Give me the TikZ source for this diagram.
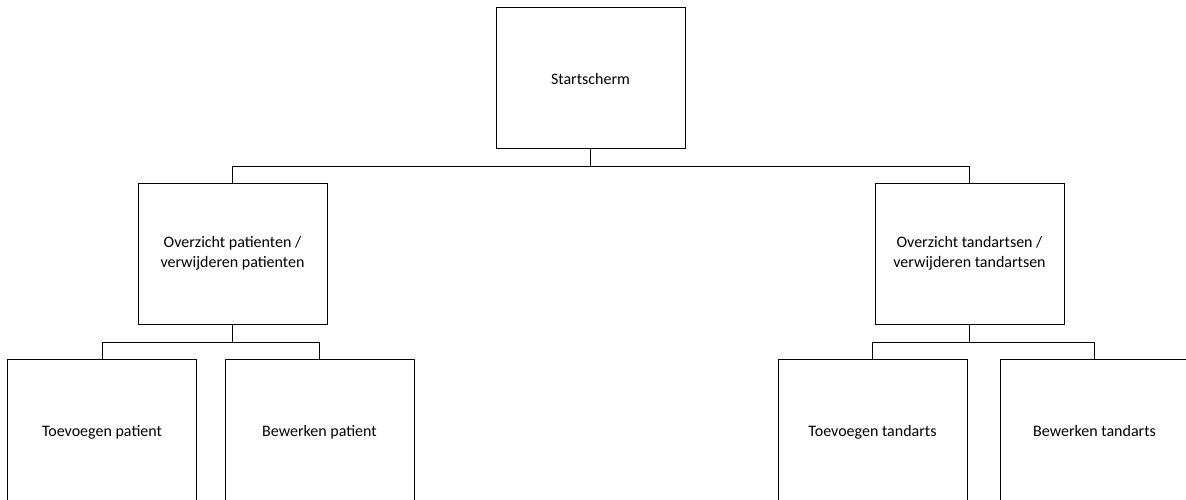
\documentclass[tikz,border=0pt]{standalone}
\usepackage{fontspec}
\setmainfont{Carlito}
\usetikzlibrary{positioning}
\tikzstyle{screen} = [draw, fill=white, rectangle, line width=0.9pt, minimum width=189pt, minimum height=141pt, inner sep=0pt, outer sep=0pt, align=center, font=\fontsize{16}{19.5}\selectfont]
\tikzstyle{oneline} = [screen, text height=13pt, text depth=0pt]
\tikzstyle{link} = [line width=1pt]

\begin{document}
\begin{tikzpicture}[x=1pt,y=1pt]
  \useasboundingbox (0,0) rectangle (1186,-499);
  \node[oneline] (start) at (590.5,-77.5) {Startscherm};
  \node[screen, below=35pt of start, xshift=-358pt] (patover) {Overzicht patienten /\\verwijderen patienten};
  \node[screen, below=35pt of start, xshift=379pt] (tandover) {Overzicht tandartsen /\\verwijderen tandartsen};
  \node[oneline, below=35pt of patover, xshift=-130.5pt] (patadd) {Toevoegen patient};
  \node[oneline, below=35pt of patover, xshift=87pt] (patedit) {Bewerken patient};
  \node[oneline, below=35pt of tandover, xshift=-97pt] (tandadd) {Toevoegen tandarts};
  \node[oneline, below=35pt of tandover, xshift=125pt] (tandedit) {Bewerken tandarts};
  \draw[link] (start.south) -- ++(0,-18) -| (patover.north);
  \draw[link] (start.south) -- ++(0,-18) -| (tandover.north);
  \draw[link] (patover.south) -- ++(0,-18) -| (patadd.north);
  \draw[link] (patover.south) -- ++(0,-18) -| (patedit.north);
  \draw[link] (tandover.south) -- ++(0,-18) -| (tandadd.north);
  \draw[link] (tandover.south) -- ++(0,-18) -| (tandedit.north);
\end{tikzpicture}
\end{document}
